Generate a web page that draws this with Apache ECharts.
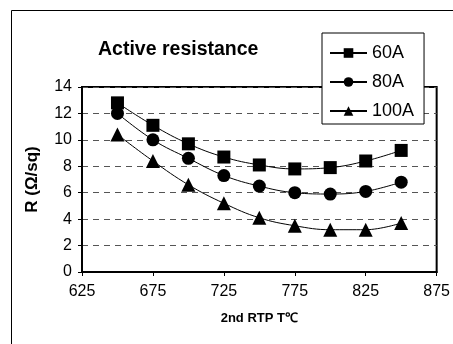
<!DOCTYPE html>
<html>
<head>
<meta charset="utf-8">
<script src="https://cdn.jsdelivr.net/npm/echarts@6/dist/echarts.min.js"></script>
<style>
  html, body { margin: 0; padding: 0; background: #fff; }
  #chart { width: 453px; height: 344px; }
</style>
</head>
<body>
<div id="chart"></div>
<script>
// temperatures (x) and resistance per series
const temps = [650, 675, 700, 725, 750, 775, 800, 825, 850];
const r60 = [12.8, 11.1, 9.7, 8.7, 8.1, 7.8, 7.9, 8.4, 9.2];
const r80 = [12.0, 10.0, 8.6, 7.3, 6.5, 6.0, 5.9, 6.1, 6.8];
const r100 = [10.4, 8.4, 6.6, 5.2, 4.1, 3.5, 3.2, 3.2, 3.7];
const xTicks = [625, 675, 725, 775, 825, 875];
const names = ['60A', '80A', '100A'];

const chart = echarts.init(document.getElementById('chart'));
const font = 'Liberation Sans, Arial, sans-serif';

function pairs(vals) {
  return temps.map((t, i) => [t, vals[i]]);
}

function mkSeries(name, vals, symbol, size) {
  return {
    name: name,
    type: 'line',
    smooth: 0.4,
    data: pairs(vals),
    symbol: symbol,
    symbolSize: size,
    lineStyle: { color: '#000', width: 1 },
    itemStyle: { color: '#000' },
    z: 3
  };
}

const option = {
  animation: false,
  textStyle: { fontFamily: font, color: '#000' },
  title: {
    text: 'Active resistance',
    left: 98,
    top: 40,
    padding: 0,
    textStyle: { fontSize: 19.5, fontWeight: 'bold', color: '#000', fontFamily: font }
  },
  legend: {
    data: names,
    orient: 'vertical',
    left: 322,
    top: 33,
    itemWidth: 37,
    itemHeight: 12,
    itemGap: 11,
    padding: [11, 10, 4, 7],
    backgroundColor: '#fff',
    borderColor: '#000',
    borderWidth: 1,
    textStyle: { fontSize: 18, color: '#000', fontFamily: font },
    z: 10
  },
  grid: {
    left: 82,
    top: 87,
    width: 356,
    height: 185,
    show: true,
    borderColor: '#000',
    borderWidth: 2,
    backgroundColor: 'transparent'
  },
  xAxis: {
    type: 'value',
    min: 625,
    max: 875,
    name: '2nd RTP T\u2103',
    nameLocation: 'middle',
    nameGap: 40,
    nameTextStyle: { fontSize: 13, fontWeight: 'bold', color: '#000', fontFamily: font },
    axisLine: { show: true, lineStyle: { color: '#000', width: 2 } },
    axisTick: { show: true, inside: false, length: 4, customValues: xTicks, lineStyle: { color: '#000' } },
    axisLabel: { customValues: xTicks, fontSize: 16, color: '#000', margin: 12, fontFamily: font },
    splitLine: { show: false }
  },
  yAxis: {
    type: 'value',
    min: 0,
    max: 14,
    interval: 2,
    name: 'R (\u03A9/sq)',
    nameLocation: 'middle',
    nameGap: 41,
    nameRotate: 90,
    nameTextStyle: { fontSize: 17, fontWeight: 'bold', color: '#000', fontFamily: font },
    axisLine: { show: true, lineStyle: { color: '#000', width: 2 } },
    axisTick: { show: true, inside: false, length: 4, lineStyle: { color: '#000' } },
    axisLabel: { fontSize: 16, color: '#000', margin: 10, fontFamily: font },
    splitLine: { show: true, lineStyle: { color: '#555', type: [6, 5], width: 1 } }
  },
  graphic: [{
    type: 'rect',
    shape: { x: 11.5, y: 10.5, width: 500, height: 400 },
    style: { fill: 'none', stroke: '#000', lineWidth: 1 },
    silent: true
  }],
  series: [
    mkSeries('60A', r60, 'rect', 13),
    mkSeries('80A', r80, 'circle', 13),
    mkSeries('100A', r100, 'triangle', 14)
  ]
};

chart.setOption(option);
</script>
</body>
</html>
